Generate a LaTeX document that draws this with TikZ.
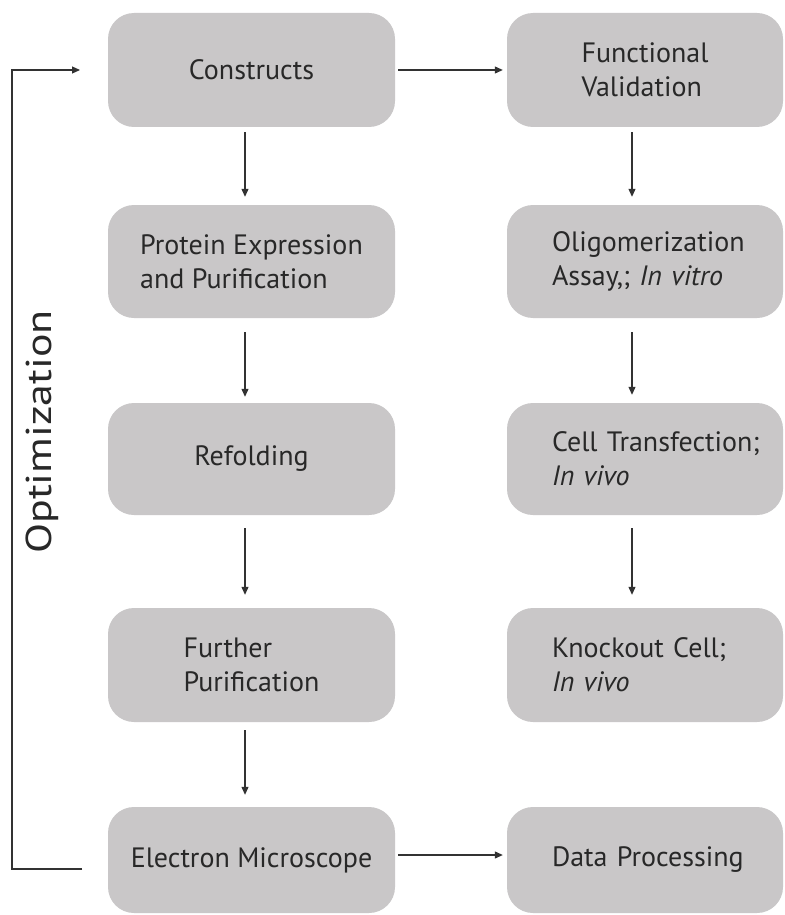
\documentclass[tikz,border=0pt]{standalone}
\usepackage{fontspec}
\usepackage{graphicx}
\setmainfont{PT Sans}
\usetikzlibrary{arrows.meta,calc}
\definecolor{boxfill}{RGB}{201,199,200}
\definecolor{ink}{RGB}{40,40,40}
\definecolor{lin}{RGB}{50,50,50}
\begin{document}
\begin{tikzpicture}[x=1pt,y=-1pt,
  box/.style={fill=boxfill, rounded corners=26pt, minimum height=114pt, inner sep=0pt,
              text=ink, font=\fontsize{28}{34}\selectfont, align=left},
  lbox/.style={box, minimum width=287pt},
  rbox/.style={box, minimum width=276pt},
  rboxl/.style={rbox, text width=186pt},
  arr/.style={draw=lin, line width=1.1pt, -{Triangle[length=8pt,width=7pt]}},
]
\useasboundingbox[fill=white] (0,0) rectangle (784,915);

\node[lbox] (c1) at (251.5,70) {Constructs};
\node[lbox, minimum height=113pt] (c2) at (251.5,261.5) {Protein Expression\\and Purification};
\node[lbox, minimum height=112pt] (c3) at (251.5,459) {Refolding};
\node[lbox] (c4) at (251.5,665) {Further\\Purification};
\node[lbox, minimum height=106pt] (c5) at (251.5,860) {Electron Microscope};

\node[rbox] (r1) at (645,70) {Functional\\Validation};
\node[rboxl, minimum height=113pt] (r2) at (645,261.5) {\mbox{Oligomerization}\\\mbox{Assay,; \textit{In vitro}}};
\node[rboxl, minimum height=112pt] (r3) at (645,459) {\mbox{Cell Transfection;}\\\textit{In vivo}};
\node[rboxl] (r4) at (645,665) {\mbox{Knockout Cell;}\\\textit{In vivo}};
\node[rboxl, minimum height=106pt] (r5) at (645,860) {\mbox{Data Processing}};

\node[rotate=90, font=\fontsize{36}{42}\selectfont, text=ink, inner sep=0pt] (opt) at (42,432) {\scalebox{1.22}[1]{Optimization}};

% left column arrows
\draw[arr, shorten <=5pt, shorten >=8pt] ([xshift=-6.5pt]c1.south) -- ([xshift=-6.5pt]c2.north);
\draw[arr, shorten <=14pt, shorten >=6pt] ([xshift=-6.5pt]c2.south) -- ([xshift=-6.5pt]c3.north);
\draw[arr, shorten <=13pt, shorten >=13pt] ([xshift=-6.5pt]c3.south) -- ([xshift=-6.5pt]c4.north);
\draw[arr, shorten <=8pt, shorten >=12pt] ([xshift=-6.5pt]c4.south) -- ([xshift=-6.5pt]c5.north);
% right column arrows
\draw[arr, shorten <=5pt, shorten >=8pt] ([xshift=-13pt]r1.south) -- ([xshift=-13pt]r2.north);
\draw[arr, shorten <=14pt, shorten >=8pt] ([xshift=-13pt]r2.south) -- ([xshift=-13pt]r3.north);
\draw[arr, shorten <=13pt, shorten >=13pt] ([xshift=-13pt]r3.south) -- ([xshift=-13pt]r4.north);
% horizontal arrows
\draw[arr, shorten <=3pt, shorten >=4pt] (c1.east) -- (r1.west);
\draw[arr, shorten <=3pt, shorten >=4pt] ([yshift=5pt]c5.east) -- ([yshift=5pt]r5.west);
% feedback loop
\coordinate (fbS) at (82,869);
\coordinate (fbE) at (80,70);
\draw[arr] (fbS) -- ++(-70,0) |- (fbE);
\end{tikzpicture}
\end{document}
